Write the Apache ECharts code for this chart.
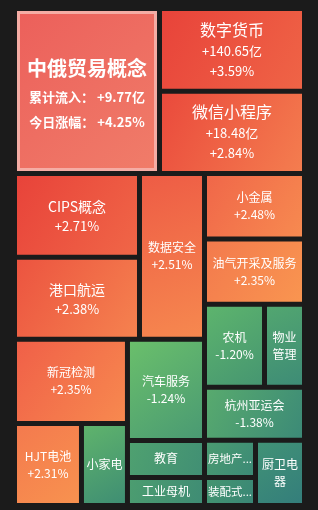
<!DOCTYPE html>
<html>
<head>
<meta charset="utf-8">
<script src="https://cdn.jsdelivr.net/npm/echarts@6/dist/echarts.min.js"></script>
<style>
html,body{margin:0;padding:0;background:#1b1b1b;}
#chart{width:318px;height:510px;}
</style>
</head>
<body>
<div id="chart"></div>
<script>
// ---- data ----
const names = ['中俄贸易概念','数字货币','微信小程序','CIPS概念','港口航运','数据安全','小金属','油气开采及服务','农机','物业管理','杭州亚运会','新冠检测','汽车服务','HJT电池','小家电','教育','工业母机','房地产服务','装配式建筑','厨卫电器'];
// relative tile weight (estimated from tile area)
const weights = [240.0, 120.4, 119.6, 104.4, 102.5, 107.6, 65.5, 65.0, 49.8, 33.2, 53.0, 94.9, 77.8, 54.9, 37.7, 28.5, 21.6, 18.9, 14.3, 31.9];
// today's change, % (null = not shown)
const changes = [4.25, 3.59, 2.84, 2.71, 2.38, 2.51, 2.48, 2.35, -1.20, null, -1.38, 2.35, -1.24, 2.31, null, null, null, null, null, null];
// accumulated inflow, 亿 (null = not shown)
const inflows = [9.77, 140.65, 18.48, null, null, null, null, null, null, null, null, null, null, null, null, null, null, null, null, null];

// nesting of the tiles (indexes into the arrays above)
const topGroup = [0, 1, 2];
const leftGroup = [[[3, 4], 5], [[11, [13, 14]], [[12, 15], 16]]];
const rightGroup = [6, 7, [8, 9], 10, [[17, 18], 19]];

// ---- styles ----
const BG = '#1b1b1b';
const FONT = '"Noto Sans CJK SC", "Noto Sans", sans-serif';
const tileColors = {
  '中俄贸易概念': ['#ec605b', '#f07c69'],
  '数字货币': ['#e8433a', '#ef6446'],
  '微信小程序': ['#ea4a3c', '#f47d4f'],
  'CIPS概念': ['#e8433a', '#f06647'],
  '港口航运': ['#ec5440', '#f5824f'],
  '数据安全': ['#ee5c45', '#f6884f'],
  '小金属': ['#f06749', '#f78a50'],
  '油气开采及服务': ['#f37a4d', '#f99550'],
  '新冠检测': ['#f06048', '#f7894f'],
  'HJT电池': ['#f47a4e', '#f8924f'],
  '汽车服务': ['#6abf6b', '#4a9a73'],
  '农机': ['#5db46d', '#469671'],
  '物业管理': ['#52a670', '#3e8c76'],
  '杭州亚运会': ['#58aa6e', '#3c8a77'],
  '小家电': ['#5fb36c', '#3f8e73'],
  '教育': ['#4fa170', '#418f74'],
  '工业母机': ['#4c9d70', '#3f8c74'],
  '房地产服务': ['#4a9b71', '#3c8a76'],
  '装配式建筑': ['#449570', '#3a8776'],
  '厨卫电器': ['#419276', '#347e7b']
};
const labelClass = {'中俄贸易概念': 'hero', '数字货币': 'lg', '微信小程序': 'lg', 'CIPS概念': 'md', '港口航运': 'md', '房地产服务': 'tr', '装配式建筑': 'tr'};
const labelOverflow = {'房地产服务': 'truncate', '装配式建筑': 'truncate', '物业管理': 'break', '厨卫电器': 'break'};
const wrappedLines = {'物业管理': 2, '厨卫电器': 2};
const lineHeights = {
  hero: [33, 25, 25], lg: [22, 20, 20], md: [20, 20, 20], sm: [17, 17, 17], tr: [17, 17, 17]
};
const labelNudge = {hero: 2, md: 1};
const HERO_BORDER = 3;
const labelPadTop = {}; // filled from the library's computed layout

function signed(v) { return (v > 0 ? '+' : '') + v.toFixed(2); }

function labelLines(i) {
  const name = names[i];
  const cls = labelClass[name] || 'sm';
  if (cls === 'hero') {
    return ['{t|' + name + '}', '{s|累计流入： ' + signed(inflows[i]) + '亿}', '{s|今日涨幅： ' + signed(changes[i]) + '%}'];
  }
  const lines = ['{' + cls + 'N|' + name + '}'];
  if (inflows[i] != null) lines.push('{' + cls + 'V|' + signed(inflows[i]) + '亿}');
  if (changes[i] != null) lines.push('{' + cls + 'V|' + signed(changes[i]) + '%}');
  return lines;
}
function labelBlockHeight(i) {
  const name = names[i];
  const lh = lineHeights[labelClass[name] || 'sm'];
  const n = labelLines(i).length;
  let h = 0;
  for (let k = 0; k < n; k++) h += lh[k];
  if (wrappedLines[name]) h = lh[0] * wrappedLines[name];
  return h;
}

function leaf(i) {
  const name = names[i];
  const c = tileColors[name];
  const item = {
    name: name,
    value: weights[i],
    itemStyle: {
      color: new echarts.graphic.LinearGradient(0, 0, 1, 1, [
        {offset: 0, color: c[0]}, {offset: 1, color: c[1]}
      ])
    }
  };
  if (i === 0) { item.itemStyle.borderWidth = HERO_BORDER; item.itemStyle.borderColor = '#f5aca4'; }
  const ov = labelOverflow[name];
  const side = ov === 'truncate' ? 0 : 2;
  item.label = {
    overflow: ov || 'none',
    padding: [labelPadTop[name] || 0, side, 0, side]
  };
  return item;
}
function build(spec) {
  if (typeof spec === 'number') return leaf(spec);
  return {name: '', children: spec.map(build)};
}

function formatLabel(p) {
  const i = names.indexOf(p.name);
  if (i < 0) return '';
  return labelLines(i).join('\n');
}

const rich = {
  t: {fontSize: 20, fontWeight: 'bold', lineHeight: 33, color: '#fff', fontFamily: FONT},
  s: {fontSize: 13, fontWeight: 'bold', lineHeight: 25, color: '#fff', fontFamily: FONT},
  lgN: {fontSize: 16, lineHeight: 22, color: '#fff', fontFamily: FONT},
  lgV: {fontSize: 13, lineHeight: 20, color: '#fff', fontFamily: FONT},
  mdN: {fontSize: 14, lineHeight: 20, color: '#fff', fontFamily: FONT},
  mdV: {fontSize: 13, lineHeight: 20, color: '#fff', fontFamily: FONT},
  smN: {fontSize: 12, lineHeight: 17, color: '#fff', fontFamily: FONT},
  smV: {fontSize: 12, lineHeight: 17, color: '#fff', fontFamily: FONT},
  trN: {fontSize: 11.5, lineHeight: 17, color: '#fff', fontFamily: FONT}
};

function treemapSeries(spec, box) {
  return Object.assign({
    type: 'treemap',
    sort: false,
    squareRatio: 1,
    roam: false,
    nodeClick: false,
    silent: true,
    breadcrumb: {show: false},
    itemStyle: {borderWidth: 0, gapWidth: 5, borderColor: BG},
    label: {
      show: true, position: 'inside', color: '#fff',
      fontFamily: FONT, fontSize: 12, lineHeight: 17,
      formatter: formatLabel, rich: rich
    },
    upperLabel: {show: false},
    emphasis: {disabled: true},
    data: spec.map(build)
  }, box);
}

function buildOption() {
  return {
    backgroundColor: BG,
    animation: false,
    textStyle: {fontFamily: FONT},
    series: [
      treemapSeries(topGroup, {left: 17, top: 11, width: 285, height: 160}),
      treemapSeries(leftGroup, {left: 17, top: 176, width: 185, height: 327}),
      treemapSeries(rightGroup, {left: 207, top: 176, width: 95, height: 327})
    ]
  };
}

const chart = echarts.init(document.getElementById('chart'), null, {renderer: 'canvas'});
chart.setOption(buildOption());

// centre each label block vertically inside its tile, using the layout computed by the treemap
chart.getModel().eachSeries(function (s) {
  const data = s.getData();
  for (let k = 0; k < data.count(); k++) {
    const name = data.getName(k);
    const i = names.indexOf(name);
    const lay = data.getItemLayout(k);
    if (i < 0 || !lay) continue;
    const inner = lay.height - (i === 0 ? 2 * HERO_BORDER : 0);
    const nudge = labelNudge[labelClass[name]] || 0;
    labelPadTop[name] = Math.max(0, (inner - labelBlockHeight(i)) / 2 + nudge);
  }
});
chart.setOption(buildOption(), true);
</script>
</body>
</html>
